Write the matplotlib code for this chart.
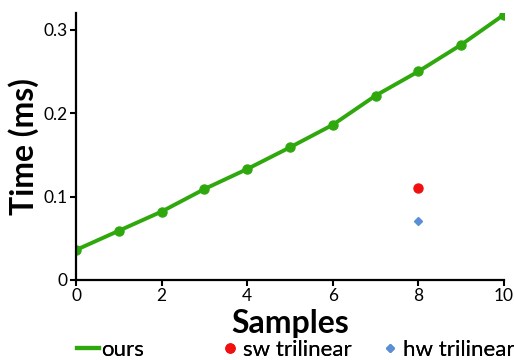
import matplotlib.pyplot as plt
from matplotlib.lines import Line2D

plt.rcParams['font.family'] = ['Lato', 'DejaVu Sans']

# data
samples = [0, 1, 2, 3, 4, 5, 6, 7, 8, 9, 10]
ours_ms = [0.036, 0.059, 0.082, 0.109, 0.133, 0.159, 0.186, 0.221, 0.250, 0.282, 0.318]
sw_x, sw_ms = [8], [0.110]
hw_x, hw_ms = [8], [0.071]

green, red, blue = '#2ea80c', '#f01010', '#5b8fd5'

fig = plt.figure(figsize=(5.14, 3.6), dpi=100)
ax = fig.add_axes([76 / 514, 80 / 360, 428 / 514, 267 / 360])

ax.plot(samples, ours_ms, color=green, lw=2.8, marker='o', ms=6.5)
ax.plot(sw_x, sw_ms, ls='none', marker='o', ms=6.5, color=red)
ax.plot(hw_x, hw_ms, ls='none', marker='D', ms=4.5, color=blue)

ax.set_xlim(0, 10)
ax.set_ylim(0, 0.32)
ax.set_xticks([0, 2, 4, 6, 8, 10])
ax.set_yticks([0, 0.1, 0.2, 0.3])
ax.set_yticklabels(['0', '0.1', '0.2', '0.3'])
ax.tick_params(labelsize=12.5, width=1.5, length=4, pad=2)
for s in ['top', 'right']:
    ax.spines[s].set_visible(False)
for s in ['left', 'bottom']:
    ax.spines[s].set_linewidth(1.6)

ax.set_xlabel('Samples', fontsize=23, fontweight='bold', labelpad=3)
ax.set_ylabel('Time (ms)', fontsize=23, fontweight='bold', labelpad=3)

# legend entries along the bottom
entries = [
    (Line2D([], [], color=green, lw=3), 'ours', 77),
    (Line2D([], [], ls='none', marker='o', ms=6.5, color=red), 'sw trilinear', 219),
    (Line2D([], [], ls='none', marker='D', ms=4.5, color=blue), 'hw trilinear', 379),
]
for handle, label, xpix in entries:
    leg = fig.legend([handle], [label], loc='center left',
                     bbox_to_anchor=(xpix / 514, 10 / 360), frameon=False,
                     fontsize=16, handlelength=1.0, handletextpad=0.1,
                     borderpad=0, borderaxespad=0)
    fig.add_artist(leg)

fig.savefig('out.png', dpi=100)
